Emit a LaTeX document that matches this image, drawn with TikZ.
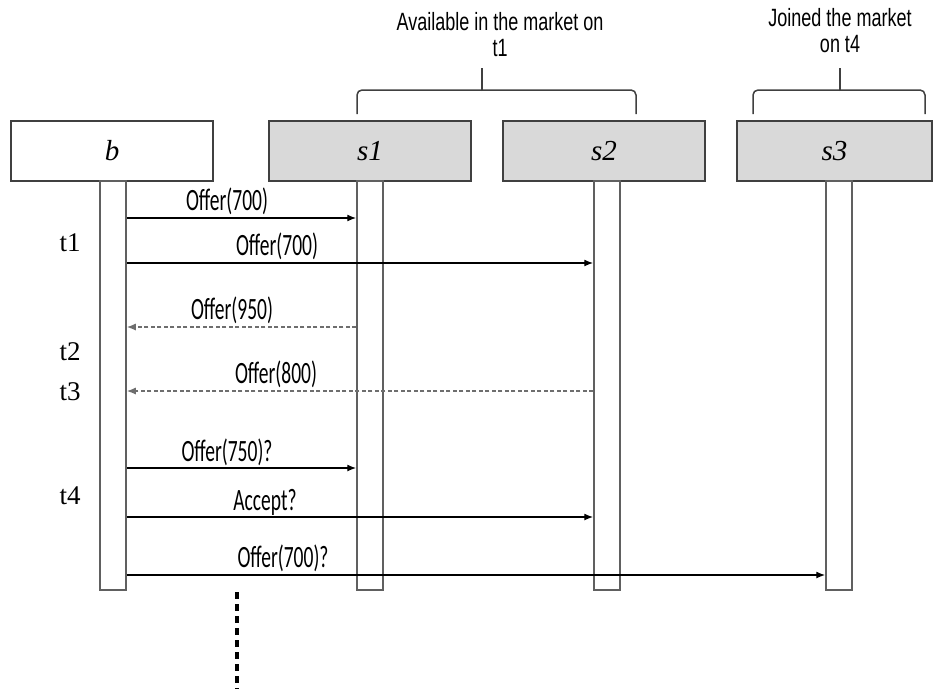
\documentclass[tikz,border=0pt]{standalone}
\usepackage{fontspec}
\setmainfont{Liberation Serif}
\newfontfamily\msgfont[FakeStretch=0.63]{Carlito}
\newfontfamily\topfont[FakeStretch=0.72]{Liberation Sans}
\usetikzlibrary{arrows.meta}
\definecolor{boxgray}{HTML}{D9D9D9}
\definecolor{edgegray}{HTML}{404040}
\definecolor{bargray}{HTML}{606060}
\definecolor{retgray}{HTML}{6E6E6E}
\tikzset{
  actor/.style={draw=edgegray, line width=1.6pt, minimum width=202pt, minimum height=60pt, inner sep=0pt,
    font=\fontsize{29}{31}\selectfont\itshape},
  seller/.style={actor, fill=boxgray},
  lifebar/.style={draw=bargray, line width=1.5pt, fill=white, minimum width=26pt, minimum height=409pt, inner sep=0pt},
  msg/.style={line width=1.4pt, -{Latex[length=9pt,width=7pt]}},
  reply/.style={line width=1.3pt, draw=retgray, dash pattern=on 4pt off 2.5pt, -{Latex[length=9pt,width=7pt]}, color=retgray},
  msglabel/.style={font=\msgfont\fontsize{31}{33}\selectfont, inner sep=0pt},
  timelabel/.style={font=\fontsize{27}{29}\selectfont, inner sep=0pt},
  toplabel/.style={font=\topfont\fontsize{25}{26}\selectfont, align=center, inner sep=0pt},
  bracket/.style={line width=1.5pt, draw=edgegray, rounded corners=5pt}
}
\begin{document}
\begin{tikzpicture}[x=1pt,y=-1pt]
\useasboundingbox[fill=white] (0,0) rectangle (933,689);

% actor boxes
\node[actor] (b) at (112,151) {b};
\node[seller] (s1) at (370,151) {s1};
\node[seller] (s2) at (604,151) {s2};
\node[seller, minimum width=195pt] (s3) at (834.5,151) {s3};

% activation bars
\node[lifebar] (bb) at (113,385.5) {};
\node[lifebar] (s1b) at (370,385.5) {};
\node[lifebar] (s2b) at (607,385.5) {};
\node[lifebar] (s3b) at (839,385.5) {};

% messages
\draw[msg] (bb.east |- 0,218) -- (s1b.west |- 0,218);
\node[msglabel] (m1) at (227,201) {Offer(700)};
\draw[msg] (bb.east |- 0,263) -- (s2b.west |- 0,263);
\node[msglabel] (m2) at (277,246) {Offer(700)};
\draw[reply] (s1b.west |- 0,327) -- (bb.east |- 0,327);
\node[msglabel] (m3) at (232,310) {Offer(950)};
\draw[reply] (s2b.west |- 0,391) -- (bb.east |- 0,391);
\node[msglabel] (m4) at (276,374) {Offer(800)};
\draw[msg] (bb.east |- 0,468) -- (s1b.west |- 0,468);
\node[msglabel] (m5) at (227,452) {Offer(750)?};
\draw[msg] (bb.east |- 0,517) -- (s2b.west |- 0,517);
\node[msglabel] (m6) at (265,502) {Accept?};
\draw[msg] (bb.east |- 0,575) -- (s3b.west |- 0,575);
\node[msglabel] (m7) at (283,558) {Offer(700)?};

% time labels
\node[timelabel] (t1) at (70,243) {t1};
\node[timelabel] (t2) at (70,352) {t2};
\node[timelabel] (t3) at (70,392) {t3};
\node[timelabel] (t4) at (70,496) {t4};

% continuation
\coordinate (dtop) at (237,592);
\coordinate (dbot) at (237,689);
\draw[line width=4.5pt, dash pattern=on 7pt off 5pt] (dtop) -- (dbot);

% brackets
\draw[bracket] (357,114) |- (482,90);
\draw[bracket] (636,114) |- (482,90);
\draw[line width=1.5pt, draw=edgegray] (482,91) -- (482,68);
\draw[bracket] (753,114) |- (840,90);
\draw[bracket] (925,114) |- (840,90);
\draw[line width=1.5pt, draw=edgegray] (840,91) -- (840,68);

% top texts
\node[toplabel] (avail) at (500,35) {Available in the market on\\t1};
\node[toplabel] (joined) at (840,31) {Joined the market\\on t4};
\end{tikzpicture}
\end{document}
